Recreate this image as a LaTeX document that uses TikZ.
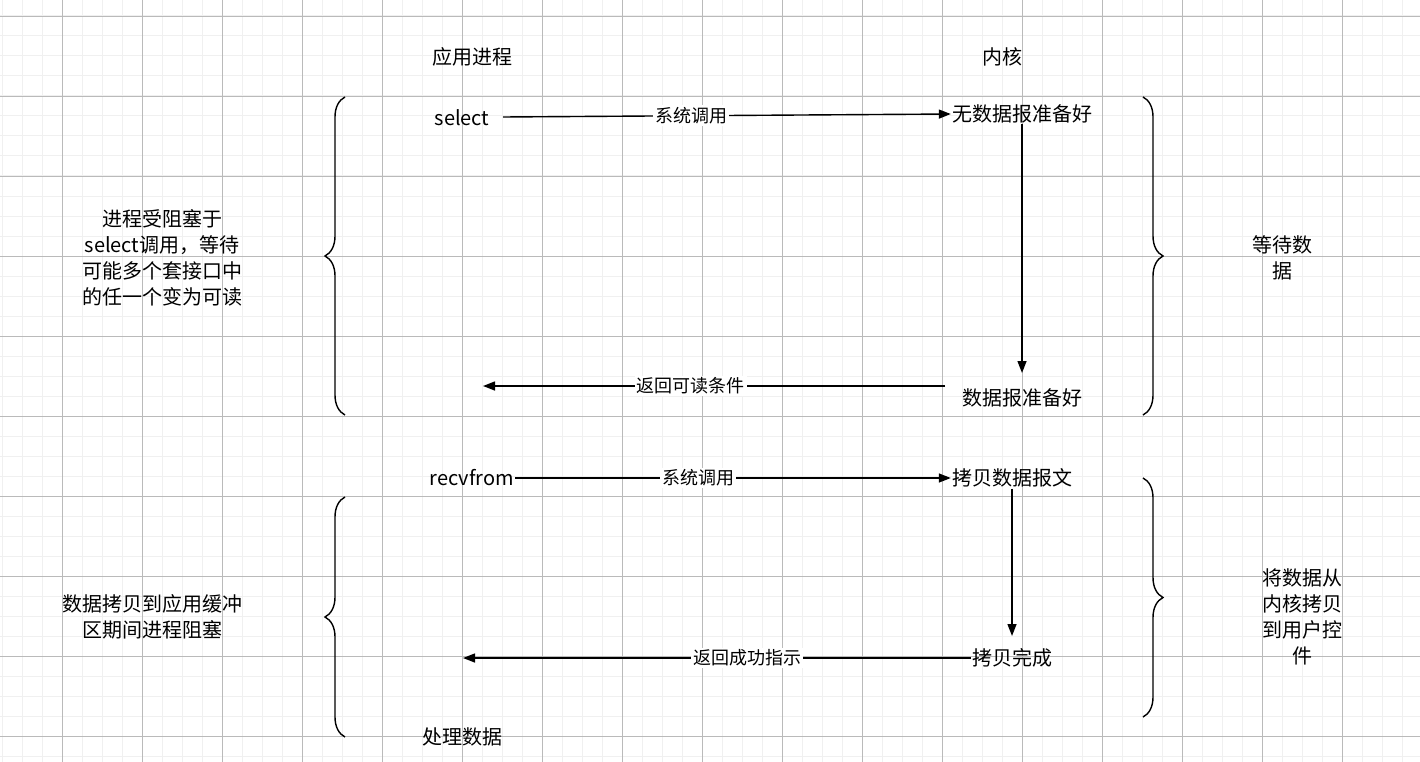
\documentclass[tikz,border=0pt]{standalone}
\usepackage{fontspec}
\setmainfont{Noto Sans CJK SC}
\usetikzlibrary{arrows.meta,decorations.pathreplacing}
\begin{document}
\begin{tikzpicture}[x=1pt,y=-1pt,
  txt/.style={font=\fontsize{20}{26}\selectfont,inner sep=1pt,align=center},
  lbl/.style={font=\fontsize{18}{22}\selectfont,fill=white,inner sep=2pt},
  arr/.style={line width=1.4pt,-{Triangle[length=12pt,width=9pt]}},
  br/.style={line width=1.4pt,decorate,decoration={brace,amplitude=20pt}}]
\useasboundingbox (0,0) rectangle (1420,762);
\foreach \x in {2,22,...,1420} \draw[line width=1pt,black!6] (\x,0) -- (\x,762);
\foreach \y in {16,36,...,762} \draw[line width=1pt,black!6] (0,\y) -- (1420,\y);
\foreach \x in {62,142,...,1420} \draw[line width=0.6pt,black!27] (\x,0) -- (\x,762);
\foreach \y in {16,96,...,762} \draw[line width=0.6pt,black!27] (0,\y) -- (1420,\y);

\node[txt] (app) at (472,57) {应用进程};
\node[txt] (kern) at (1002,57) {内核};
\node[txt] (sel) at (462,118) {select};
\node[txt] (nodata) at (1022,114) {无数据报准备好};
\node[txt] (ready) at (1022,398) {数据报准备好};
\coordinate (selin) at (483,386);
\node[txt] (rcv) at (472,478) {recvfrom};
\node[txt] (copy) at (1012,478) {拷贝数据报文};
\node[txt] (done) at (1012,658) {拷贝完成};
\coordinate (rcvin) at (463,658);
\node[txt] (proc) at (462,737) {处理数据};

\draw[arr] (503,117) -- (nodata.west) node[lbl,pos=0.42] {系统调用};
\draw[arr] (nodata.south) -- (1022,373);
\draw[arr] (945,386) -- (selin) node[lbl,pos=0.55] {返回可读条件};
\draw[arr] (rcv.east) -- (copy.west) node[lbl,pos=0.42] {系统调用};
\draw[arr] (copy.south) -- (1012,636);
\draw[arr] (done.west) -- (rcvin) node[lbl,pos=0.44] {返回成功指示};

\draw[br] (345,415) -- (345,97) coordinate[midway] (b1);
\draw[br] (1143,97) -- (1143,415);
\draw[br] (345,737) -- (345,497);
\draw[br] (1143,478) -- (1143,717);

\node[txt] (t1) at (162,258) {进程受阻塞于\\select调用，等待\\可能多个套接口中\\的任一个变为可读};
\node[txt] (t2) at (1282,258) {等待数\\据};
\node[txt] (t3) at (152,617) {数据拷贝到应用缓冲\\区期间进程阻塞};
\node[txt] (t4) at (1302,617) {将数据从\\内核拷贝\\到用户控\\件};
\end{tikzpicture}
\end{document}
